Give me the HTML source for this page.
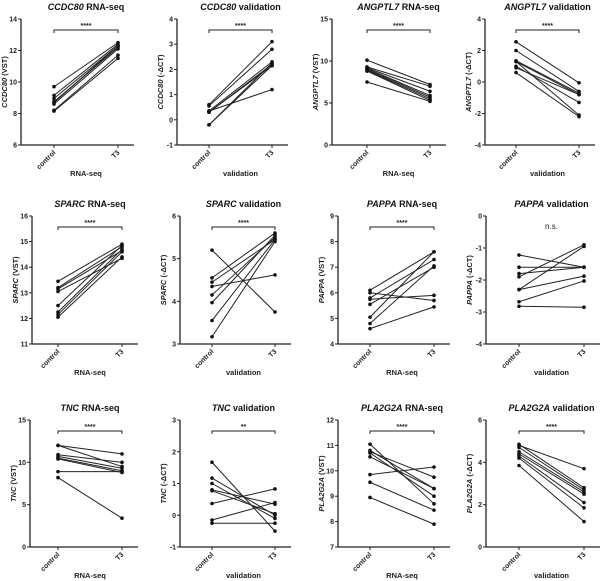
<!DOCTYPE html>
<html><head><meta charset="utf-8"><style>
html,body{margin:0;padding:0;background:#fff;}
svg{display:block;font-family:"Liberation Sans",Arial,sans-serif;}
</style></head><body>
<svg id="fig" width="616" height="581" viewBox="0 0 616 581"></svg>
<script>
const geneNames=["CCDC80","CCDC80","ANGPTL7","ANGPTL7","SPARC","SPARC","PAPPA","PAPPA","TNC","TNC","PLA2G2A","PLA2G2A"];
const panelKinds=["RNA-seq","validation","RNA-seq","validation","RNA-seq","validation","RNA-seq","validation","RNA-seq","validation","RNA-seq","validation"];
const sigLabels=["****","****","****","****","****","****","****","n.s.","****","**","****","****"];
const yTicks=[[6,8,10,12,14],[-1,0,1,2,3,4],[0,5,10,15],[-4,-2,0,2,4],[11,12,13,14,15,16],[3,4,5,6],[4,5,6,7,8,9],[-4,-3,-2,-1,0],[0,5,10,15],[-1,0,1,2,3],[7,8,9,10,11,12],[0,2,4,6]];
const controlValues=[
[9.7,9.15,8.95,8.75,8.6,8.2,8.15,8.7],
[0.6,0.55,0.35,0.3,0.3,-0.2,-0.2,0.35],
[10.1,9.3,9.2,9.1,9.0,8.9,8.8,7.5],
[2.55,2.0,1.35,1.3,1.0,0.9,0.6,1.3],
[13.45,13.2,13.15,13.05,12.5,12.25,12.15,12.05],
[5.2,4.55,4.45,4.35,4.15,3.97,3.55,3.17],
[6.1,6.0,5.8,5.75,5.55,5.05,4.8,4.6],
[-1.22,-1.6,-1.8,-1.9,-2.3,-2.3,-2.68,-2.82],
[12.0,12.0,10.9,10.7,10.5,10.4,8.9,8.2],
[1.67,1.17,1.0,0.8,0.77,0.37,-0.15,-0.25],
[11.05,10.8,10.75,10.7,10.55,9.85,9.55,8.95],
[4.85,4.8,4.7,4.5,4.4,4.3,4.2,3.85]];
const t3Values=[
[12.5,12.4,12.3,12.2,12.1,11.7,11.5,12.3],
[3.1,2.8,2.3,2.2,2.15,2.25,2.15,1.2],
[7.2,7.0,6.4,5.9,5.7,5.5,5.3,5.2],
[-0.05,-0.6,-0.7,-2.1,-1.3,-0.8,-2.2,-0.8],
[14.9,14.8,14.65,14.35,14.85,14.7,14.6,14.4],
[3.75,5.6,5.45,4.62,5.5,5.55,5.45,5.4],
[7.6,5.7,7.3,5.9,7.0,7.6,7.05,5.45],
[-1.6,-1.6,-1.6,-0.9,-0.95,-1.88,-2.03,-2.85],
[11.0,9.5,10.0,9.3,9.0,8.8,8.9,3.4],
[-0.5,0.0,-0.1,0.35,0.05,0.83,0.4,-0.25],
[8.7,9.3,9.75,9.0,9.3,10.15,8.45,7.9],
[2.8,3.7,2.7,2.6,2.5,2.1,1.85,1.2]];

// layout (not data)
const L=[
{ax:21,cx:54,tx:118,top:19,bot:145},{ax:177,cx:209,tx:272,top:19,bot:145},
{ax:332,cx:367,tx:430,top:19,bot:145},{ax:485,cx:516,tx:579,top:19,bot:145},
{ax:32,cx:58,tx:122,top:216,bot:344},{ax:180,cx:212,tx:275,top:216,bot:344},
{ax:338,cx:370,tx:434,top:216,bot:344},{ax:486,cx:519,tx:584,top:216,bot:344},
{ax:30,cx:58,tx:122,top:420,bot:547},{ax:180,cx:212,tx:275,top:420,bot:547},
{ax:338,cx:370,tx:434,top:420,bot:547},{ax:486,cx:519,tx:584,top:420,bot:547}];
const NS="http://www.w3.org/2000/svg";
const svg=document.getElementById('fig');
function mk(tag,attrs,parent,txt){const e=document.createElementNS(NS,tag);for(const k in attrs)e.setAttribute(k,attrs[k]);if(txt!==undefined)e.textContent=txt;parent.appendChild(e);return e;}
for(let p=0;p<12;p++){
 const g=L[p];const ticks=yTicks[p];const ymin=ticks[0],ymax=ticks[ticks.length-1];
 const y=v=>g.bot-(v-ymin)/(ymax-ymin)*(g.bot-g.top);
 const pg=mk('g',{},svg);
 
 
 const mid=(g.cx+g.tx)/2;
 const title=mk('text',{x:mid,y:g.top-9,'text-anchor':'middle','font-size':'9','font-weight':'bold',fill:'#111'},pg);
 
 
 mk('tspan',{'font-style':'italic'},title,geneNames[p]);
 mk('tspan',{},title,' '+panelKinds[p]);
 const ya=mk('line',{x1:g.ax,y1:g.top,x2:g.ax,y2:g.bot,stroke:'#222','stroke-width':1.3},pg);
 
 const xa=mk('line',{x1:g.ax,y1:g.bot,x2:g.tx+16,y2:g.bot,stroke:'#222','stroke-width':1.3},pg);
 
 ticks.forEach(t=>{
  mk('line',{x1:g.ax-3,y1:y(t),x2:g.ax,y2:y(t),stroke:'#222','stroke-width':1},pg);
  const tl=mk('text',{x:g.ax-4,y:y(t)+2.5,'text-anchor':'end','font-size':'7','font-weight':'bold',fill:'#222'},pg,String(t));
  
 });
 [[g.cx,'control'],[g.tx,'T3']].forEach(([x,l])=>{
  mk('line',{x1:x,y1:g.bot,x2:x,y2:g.bot+3,stroke:'#222','stroke-width':1},pg);
  const tl=mk('text',{x:x+2,y:g.bot+8,'text-anchor':'end','font-size':'7','font-weight':'bold',fill:'#222',transform:`rotate(-45 ${x+2} ${g.bot+8})`},pg,l);
  
 });
 const xl=mk('text',{x:mid,y:g.bot+31,'text-anchor':'middle','font-size':'7.5','font-weight':'bold',fill:'#222'},pg,panelKinds[p]);
 
 const yc=(g.top+g.bot)/2, yx=g.ax-14;
 const yl=mk('text',{x:yx,y:yc,'text-anchor':'middle','font-size':'7.5','font-weight':'bold',fill:'#222',transform:`rotate(-90 ${yx} ${yc})`},pg);
 
 mk('tspan',{'font-style':'italic'},yl,geneNames[p]);
 mk('tspan',{},yl,panelKinds[p]==='RNA-seq'?' (VST)':' (-\u0394CT)');
 const by=g.top+11;
 if(sigLabels[p]!=='n.s.'){
  const br=mk('path',{d:`M${g.cx},${by+3}V${by}H${g.tx}V${by+3}`,fill:'none',stroke:'#222','stroke-width':1},pg);
  
 }
 const sl=mk('text',{x:mid,y:sigLabels[p]==='n.s.'?by+2:by-2,'text-anchor':'middle','font-size':sigLabels[p]==='n.s.'?'8':'7','font-weight':sigLabels[p]==='n.s.'?'normal':'bold',fill:'#222'},pg,sigLabels[p]);
 
 for(let i=0;i<controlValues[p].length;i++){
  const c=controlValues[p][i],t=t3Values[p][i];
  const ln=mk('line',{x1:g.cx,y1:y(c),x2:g.tx,y2:y(t),stroke:'#222','stroke-width':1},pg);
  
  const d1=mk('circle',{cx:g.cx,cy:y(c),r:1.8,fill:'#111'},pg);
  
  const d2=mk('circle',{cx:g.tx,cy:y(t),r:1.8,fill:'#111'},pg);
  
 }
}
</script>
</body></html>
